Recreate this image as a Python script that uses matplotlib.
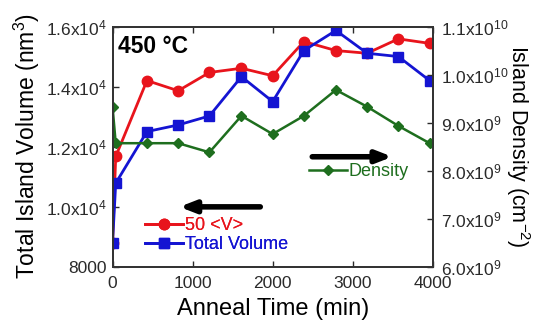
import numpy as np
import matplotlib
matplotlib.use('Agg')
from matplotlib import pyplot as plt

plt.rcParams['font.family'] = ['Liberation Sans', 'DejaVu Sans']
plt.rcParams['mathtext.fontset'] = 'custom'
plt.rcParams['mathtext.rm'] = 'Liberation Sans'
plt.rcParams['mathtext.it'] = 'Liberation Sans'
plt.rcParams['mathtext.bf'] = 'Liberation Sans:bold'

### data
t_vol   = [0, 40, 430, 820, 1210, 1610, 2000, 2390, 2790, 3180, 3570, 3960]
vol_50v = [8780, 11670, 14200, 13860, 14470, 14610, 14360, 15500, 15200, 15110, 15590, 15440]
vol_tot = [8780, 10780, 12500, 12720, 13020, 14330, 13500, 15200, 15870, 15110, 15000, 14200]
density = [9.33e9, 8.57e9, 8.57e9, 8.57e9, 8.38e9, 9.14e9, 8.76e9, 9.14e9, 9.68e9, 9.33e9, 8.93e9, 8.57e9]

left_ticks  = [8000, 10000, 12000, 14000, 16000]
left_labels = ['8000', r'1.0x10$^{4}$', r'1.2x10$^{4}$', r'1.4x10$^{4}$', r'1.6x10$^{4}$']
right_ticks  = [6e9, 7e9, 8e9, 9e9, 1e10, 1.1e10]
right_labels = [r'6.0x10$^{9}$', r'7.0x10$^{9}$', r'8.0x10$^{9}$', r'9.0x10$^{9}$',
                r'1.0x10$^{10}$', r'1.1x10$^{10}$']

RED   = '#e8141c'
BLUE  = '#1414d2'
GREEN = '#1e6e1e'

fig = plt.figure(figsize=(5.41, 3.2), dpi=100)
ax = fig.add_axes([0.208, 0.167, 0.592, 0.75])
ax2 = ax.twinx()

l1, = ax.plot(t_vol, vol_50v, '-o', color=RED, lw=2.0, ms=7.5, label='50 <V>')
l2, = ax.plot(t_vol, vol_tot, '-s', color=BLUE, lw=2.0, ms=7.5, label='Total Volume')
l3, = ax2.plot(t_vol, density, '-D', color=GREEN, lw=1.8, ms=5, label='Density')

ax.set_xlim(0, 4000)
ax.set_ylim(8000, 16000)
ax2.set_ylim(6e9, 1.1e10)
ax.set_xticks([0, 1000, 2000, 3000, 4000])
ax.set_yticks(left_ticks)
ax.set_yticklabels(left_labels)
ax2.set_yticks(right_ticks)
ax2.set_yticklabels(right_labels)

for a in (ax, ax2):
    a.tick_params(direction='in', length=4, width=1, labelsize=12.5, colors='#2a2a2a')
    for s in a.spines.values():
        s.set_linewidth(1.3)
        s.set_color('#333333')
ax.tick_params(top=True, right=False)
ax.tick_params(axis='x', pad=7)
ax.tick_params(axis='y', pad=4)
ax2.tick_params(right=True, left=False, pad=6)

ax.set_xlabel('Anneal Time (min)', fontsize=17, labelpad=5)
ax.set_ylabel('Total Island Volume (nm$^{3}$)', fontsize=16.5, labelpad=3)
ax2.set_ylabel('Island Density (cm$^{-2}$)', fontsize=15.5, rotation=270, labelpad=17)

ax.text(0.018, 0.915, '450 °C', transform=ax.transAxes, fontsize=16.5,
        fontweight='bold', va='center')

# arrows
ax.annotate('', xy=(800, 9990), xytext=(1880, 9990),
            arrowprops=dict(arrowstyle='-|>,head_length=0.9,head_width=0.35',
                            color='black', lw=4))
ax.annotate('', xy=(3530, 11660), xytext=(2460, 11660),
            arrowprops=dict(arrowstyle='-|>,head_length=0.9,head_width=0.35',
                            color='black', lw=4))

leg1 = ax.legend(handles=[l1, l2], loc='lower left', bbox_to_anchor=(0.08, 0.025),
                 frameon=False, fontsize=13, handlelength=2.1,
                 handletextpad=0.1, labelspacing=0.12, borderaxespad=0)
for txt, c in zip(leg1.get_texts(), [RED, BLUE]):
    txt.set_color(c)
ax.add_artist(leg1)

leg2 = ax2.legend(handles=[l3], loc='lower left', bbox_to_anchor=(0.59, 0.33),
                  frameon=False, fontsize=13, handlelength=2.1,
                  handletextpad=0.1, borderaxespad=0)
leg2.get_texts()[0].set_color(GREEN)

fig.savefig('out.png', dpi=100)
